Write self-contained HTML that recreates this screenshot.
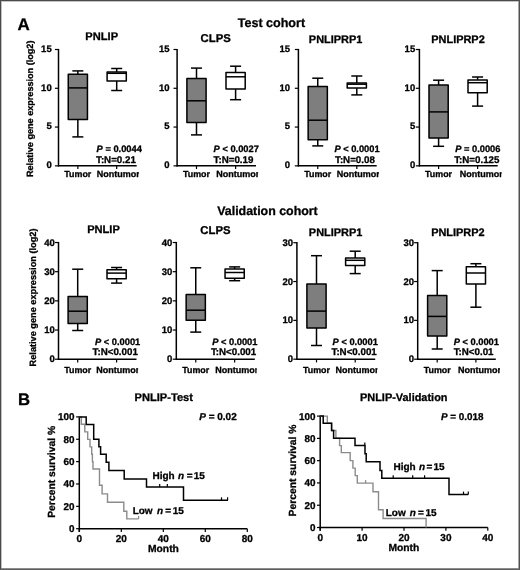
<!DOCTYPE html>
<html><head><meta charset="utf-8"><style>
html,body{margin:0;padding:0;background:#fff;}
body{width:520px;height:570px;overflow:hidden;font-family:"Liberation Sans", sans-serif;}
svg{display:block;}
body{filter:grayscale(1);}
</style></head><body>
<svg width="520" height="570" viewBox="0 0 520 570">
<rect x="0" y="0" width="520" height="570" fill="#fff"/>
<g font-family='"Liberation Sans", sans-serif' fill="#000" text-rendering="geometricPrecision" stroke-linejoin="round">
<text x="17.60" y="30.40" font-size="16.9" font-weight="bold" text-anchor="start" stroke="#000" stroke-width="0.3" >A</text>
<text x="271.40" y="26.60" font-size="12.55" font-weight="bold" text-anchor="middle" stroke="#000" stroke-width="0.3" >Test cohort</text>
<text x="267.50" y="214.70" font-size="12.4" font-weight="bold" text-anchor="middle" stroke="#000" stroke-width="0.3" >Validation cohort</text>
<text transform="translate(32.7,108.8) rotate(-90)" font-size="9.1" font-weight="bold" text-anchor="middle" stroke="#000" stroke-width="0.3">Relative gene expression (log2)</text>
<text transform="translate(35.9,297.5) rotate(-90)" font-size="9.2" font-weight="bold" text-anchor="middle" stroke="#000" stroke-width="0.3">Relative gene expression (log2)</text>
<line x1="58.50" y1="48.90" x2="58.50" y2="166.45" stroke="#000" stroke-width="1.5"/>
<line x1="54.90" y1="49.50" x2="58.50" y2="49.50" stroke="#000" stroke-width="1.2"/>
<text x="51.70" y="51.90" font-size="9.5" font-weight="bold" text-anchor="end" stroke="#000" stroke-width="0.3" >15</text>
<line x1="54.90" y1="88.28" x2="58.50" y2="88.28" stroke="#000" stroke-width="1.2"/>
<text x="51.70" y="90.68" font-size="9.5" font-weight="bold" text-anchor="end" stroke="#000" stroke-width="0.3" >10</text>
<line x1="54.90" y1="127.06" x2="58.50" y2="127.06" stroke="#000" stroke-width="1.2"/>
<text x="51.70" y="129.47" font-size="9.5" font-weight="bold" text-anchor="end" stroke="#000" stroke-width="0.3" >5</text>
<line x1="54.90" y1="165.85" x2="58.50" y2="165.85" stroke="#000" stroke-width="1.2"/>
<text x="51.70" y="168.25" font-size="9.5" font-weight="bold" text-anchor="end" stroke="#000" stroke-width="0.3" >0</text>
<line x1="57.90" y1="165.85" x2="136.70" y2="165.85" stroke="#000" stroke-width="1.5"/>
<line x1="77.85" y1="165.85" x2="77.85" y2="169.05" stroke="#000" stroke-width="1.2"/>
<line x1="116.70" y1="165.85" x2="116.70" y2="169.05" stroke="#000" stroke-width="1.2"/>
<line x1="77.85" y1="70.90" x2="77.85" y2="74.15" stroke="#000" stroke-width="1.5"/>
<line x1="77.85" y1="119.60" x2="77.85" y2="136.90" stroke="#000" stroke-width="1.5"/>
<line x1="72.35" y1="70.90" x2="83.35" y2="70.90" stroke="#000" stroke-width="1.5"/>
<line x1="72.35" y1="136.90" x2="83.35" y2="136.90" stroke="#000" stroke-width="1.5"/>
<rect x="68.25" y="74.15" width="19.20" height="45.45" fill="#7e7e7e" stroke="#000" stroke-width="1.5"/>
<line x1="68.25" y1="87.90" x2="87.45" y2="87.90" stroke="#000" stroke-width="1.5"/>
<line x1="116.70" y1="68.50" x2="116.70" y2="71.95" stroke="#000" stroke-width="1.5"/>
<line x1="116.70" y1="81.00" x2="116.70" y2="90.50" stroke="#000" stroke-width="1.5"/>
<line x1="111.20" y1="68.50" x2="122.20" y2="68.50" stroke="#000" stroke-width="1.5"/>
<line x1="111.20" y1="90.50" x2="122.20" y2="90.50" stroke="#000" stroke-width="1.5"/>
<rect x="107.10" y="71.95" width="19.20" height="9.05" fill="#fff" stroke="#000" stroke-width="1.5"/>
<line x1="107.10" y1="73.30" x2="126.30" y2="73.30" stroke="#000" stroke-width="1.5"/>
<text x="101.70" y="39.90" font-size="11.1" font-weight="bold" text-anchor="middle" stroke="#000" stroke-width="0.3" >PNLIP</text>
<text x="96.60" y="151.80" font-size="9.3" font-weight="bold" text-anchor="start" stroke="#000" stroke-width="0.3" ><tspan font-style="italic">P</tspan> = 0.0044</text>
<text x="96.00" y="162.70" font-size="9.75" font-weight="bold" text-anchor="start" stroke="#000" stroke-width="0.3" >T:N=0.21</text>
<text x="77.85" y="177.30" font-size="8.9" font-weight="bold" text-anchor="middle" stroke="#000" stroke-width="0.3" >Tumor</text>
<clipPath id="cn1"><rect x="91.75" y="165.30" width="47.15" height="16"/></clipPath>
<text x="96.75" y="177.30" font-size="9.0" font-weight="bold" text-anchor="start" stroke="#000" stroke-width="0.3" clip-path="url(#cn1)">Nontumor</text>
<line x1="177.10" y1="48.90" x2="177.10" y2="166.45" stroke="#000" stroke-width="1.5"/>
<line x1="173.50" y1="49.50" x2="177.10" y2="49.50" stroke="#000" stroke-width="1.2"/>
<text x="169.60" y="51.90" font-size="9.5" font-weight="bold" text-anchor="end" stroke="#000" stroke-width="0.3" >15</text>
<line x1="173.50" y1="88.28" x2="177.10" y2="88.28" stroke="#000" stroke-width="1.2"/>
<text x="169.60" y="90.68" font-size="9.5" font-weight="bold" text-anchor="end" stroke="#000" stroke-width="0.3" >10</text>
<line x1="173.50" y1="127.06" x2="177.10" y2="127.06" stroke="#000" stroke-width="1.2"/>
<text x="169.60" y="129.47" font-size="9.5" font-weight="bold" text-anchor="end" stroke="#000" stroke-width="0.3" >5</text>
<line x1="173.50" y1="165.85" x2="177.10" y2="165.85" stroke="#000" stroke-width="1.2"/>
<text x="169.60" y="168.25" font-size="9.5" font-weight="bold" text-anchor="end" stroke="#000" stroke-width="0.3" >0</text>
<line x1="176.50" y1="165.85" x2="256.00" y2="165.85" stroke="#000" stroke-width="1.5"/>
<line x1="196.50" y1="165.85" x2="196.50" y2="169.05" stroke="#000" stroke-width="1.2"/>
<line x1="235.60" y1="165.85" x2="235.60" y2="169.05" stroke="#000" stroke-width="1.2"/>
<line x1="196.50" y1="68.10" x2="196.50" y2="78.60" stroke="#000" stroke-width="1.5"/>
<line x1="196.50" y1="122.60" x2="196.50" y2="134.90" stroke="#000" stroke-width="1.5"/>
<line x1="191.00" y1="68.10" x2="202.00" y2="68.10" stroke="#000" stroke-width="1.5"/>
<line x1="191.00" y1="134.90" x2="202.00" y2="134.90" stroke="#000" stroke-width="1.5"/>
<rect x="186.90" y="78.60" width="19.20" height="44.00" fill="#7e7e7e" stroke="#000" stroke-width="1.5"/>
<line x1="186.90" y1="100.80" x2="206.10" y2="100.80" stroke="#000" stroke-width="1.5"/>
<line x1="235.60" y1="66.20" x2="235.60" y2="72.60" stroke="#000" stroke-width="1.5"/>
<line x1="235.60" y1="88.90" x2="235.60" y2="99.70" stroke="#000" stroke-width="1.5"/>
<line x1="230.10" y1="66.20" x2="241.10" y2="66.20" stroke="#000" stroke-width="1.5"/>
<line x1="230.10" y1="99.70" x2="241.10" y2="99.70" stroke="#000" stroke-width="1.5"/>
<rect x="226.00" y="72.60" width="19.20" height="16.30" fill="#fff" stroke="#000" stroke-width="1.5"/>
<line x1="226.00" y1="76.80" x2="245.20" y2="76.80" stroke="#000" stroke-width="1.5"/>
<text x="215.70" y="41.60" font-size="11.35" font-weight="bold" text-anchor="middle" stroke="#000" stroke-width="0.3" >CLPS</text>
<text x="213.60" y="151.80" font-size="9.3" font-weight="bold" text-anchor="start" stroke="#000" stroke-width="0.3" ><tspan font-style="italic">P</tspan> &lt; 0.0027</text>
<text x="213.60" y="162.70" font-size="9.75" font-weight="bold" text-anchor="start" stroke="#000" stroke-width="0.3" >T:N=0.19</text>
<text x="196.50" y="177.30" font-size="8.9" font-weight="bold" text-anchor="middle" stroke="#000" stroke-width="0.3" >Tumor</text>
<clipPath id="cn2"><rect x="211.15" y="165.30" width="46.95" height="16"/></clipPath>
<text x="216.15" y="177.30" font-size="9.0" font-weight="bold" text-anchor="start" stroke="#000" stroke-width="0.3" clip-path="url(#cn2)">Nontumor</text>
<line x1="298.40" y1="48.90" x2="298.40" y2="166.45" stroke="#000" stroke-width="1.5"/>
<line x1="294.80" y1="49.50" x2="298.40" y2="49.50" stroke="#000" stroke-width="1.2"/>
<text x="290.00" y="51.90" font-size="9.5" font-weight="bold" text-anchor="end" stroke="#000" stroke-width="0.3" >15</text>
<line x1="294.80" y1="88.28" x2="298.40" y2="88.28" stroke="#000" stroke-width="1.2"/>
<text x="290.00" y="90.68" font-size="9.5" font-weight="bold" text-anchor="end" stroke="#000" stroke-width="0.3" >10</text>
<line x1="294.80" y1="127.06" x2="298.40" y2="127.06" stroke="#000" stroke-width="1.2"/>
<text x="290.00" y="129.47" font-size="9.5" font-weight="bold" text-anchor="end" stroke="#000" stroke-width="0.3" >5</text>
<line x1="294.80" y1="165.85" x2="298.40" y2="165.85" stroke="#000" stroke-width="1.2"/>
<text x="290.00" y="168.25" font-size="9.5" font-weight="bold" text-anchor="end" stroke="#000" stroke-width="0.3" >0</text>
<line x1="297.80" y1="165.85" x2="376.70" y2="165.85" stroke="#000" stroke-width="1.5"/>
<line x1="317.75" y1="165.85" x2="317.75" y2="169.05" stroke="#000" stroke-width="1.2"/>
<line x1="356.80" y1="165.85" x2="356.80" y2="169.05" stroke="#000" stroke-width="1.2"/>
<line x1="317.75" y1="78.20" x2="317.75" y2="86.40" stroke="#000" stroke-width="1.5"/>
<line x1="317.75" y1="139.70" x2="317.75" y2="145.90" stroke="#000" stroke-width="1.5"/>
<line x1="312.25" y1="78.20" x2="323.25" y2="78.20" stroke="#000" stroke-width="1.5"/>
<line x1="312.25" y1="145.90" x2="323.25" y2="145.90" stroke="#000" stroke-width="1.5"/>
<rect x="308.15" y="86.40" width="19.20" height="53.30" fill="#7e7e7e" stroke="#000" stroke-width="1.5"/>
<line x1="308.15" y1="120.20" x2="327.35" y2="120.20" stroke="#000" stroke-width="1.5"/>
<line x1="356.80" y1="76.00" x2="356.80" y2="83.00" stroke="#000" stroke-width="1.5"/>
<line x1="356.80" y1="88.10" x2="356.80" y2="94.90" stroke="#000" stroke-width="1.5"/>
<line x1="351.30" y1="76.00" x2="362.30" y2="76.00" stroke="#000" stroke-width="1.5"/>
<line x1="351.30" y1="94.90" x2="362.30" y2="94.90" stroke="#000" stroke-width="1.5"/>
<rect x="347.20" y="83.00" width="19.20" height="5.10" fill="#fff" stroke="#000" stroke-width="1.5"/>
<line x1="347.20" y1="84.20" x2="366.40" y2="84.20" stroke="#000" stroke-width="1.5"/>
<text x="335.60" y="43.00" font-size="10.95" font-weight="bold" text-anchor="middle" stroke="#000" stroke-width="0.3" >PNLIPRP1</text>
<text x="334.40" y="151.80" font-size="9.3" font-weight="bold" text-anchor="start" stroke="#000" stroke-width="0.3" ><tspan font-style="italic">P</tspan> &lt; 0.0001</text>
<text x="335.00" y="162.70" font-size="9.75" font-weight="bold" text-anchor="start" stroke="#000" stroke-width="0.3" >T:N=0.08</text>
<text x="317.75" y="177.30" font-size="8.9" font-weight="bold" text-anchor="middle" stroke="#000" stroke-width="0.3" >Tumor</text>
<clipPath id="cn3"><rect x="331.65" y="165.30" width="47.35" height="16"/></clipPath>
<text x="336.65" y="177.30" font-size="9.0" font-weight="bold" text-anchor="start" stroke="#000" stroke-width="0.3" clip-path="url(#cn3)">Nontumor</text>
<line x1="419.40" y1="48.90" x2="419.40" y2="166.45" stroke="#000" stroke-width="1.5"/>
<line x1="415.80" y1="49.50" x2="419.40" y2="49.50" stroke="#000" stroke-width="1.2"/>
<text x="415.20" y="51.90" font-size="9.5" font-weight="bold" text-anchor="end" stroke="#000" stroke-width="0.3" >15</text>
<line x1="415.80" y1="88.28" x2="419.40" y2="88.28" stroke="#000" stroke-width="1.2"/>
<text x="415.20" y="90.68" font-size="9.5" font-weight="bold" text-anchor="end" stroke="#000" stroke-width="0.3" >10</text>
<line x1="415.80" y1="127.06" x2="419.40" y2="127.06" stroke="#000" stroke-width="1.2"/>
<text x="415.20" y="129.47" font-size="9.5" font-weight="bold" text-anchor="end" stroke="#000" stroke-width="0.3" >5</text>
<line x1="415.80" y1="165.85" x2="419.40" y2="165.85" stroke="#000" stroke-width="1.2"/>
<text x="415.20" y="168.25" font-size="9.5" font-weight="bold" text-anchor="end" stroke="#000" stroke-width="0.3" >0</text>
<line x1="418.80" y1="165.85" x2="497.70" y2="165.85" stroke="#000" stroke-width="1.5"/>
<line x1="438.60" y1="165.85" x2="438.60" y2="169.05" stroke="#000" stroke-width="1.2"/>
<line x1="477.60" y1="165.85" x2="477.60" y2="169.05" stroke="#000" stroke-width="1.2"/>
<line x1="438.60" y1="80.20" x2="438.60" y2="85.00" stroke="#000" stroke-width="1.5"/>
<line x1="438.60" y1="137.90" x2="438.60" y2="146.30" stroke="#000" stroke-width="1.5"/>
<line x1="433.10" y1="80.20" x2="444.10" y2="80.20" stroke="#000" stroke-width="1.5"/>
<line x1="433.10" y1="146.30" x2="444.10" y2="146.30" stroke="#000" stroke-width="1.5"/>
<rect x="429.00" y="85.00" width="19.20" height="52.90" fill="#7e7e7e" stroke="#000" stroke-width="1.5"/>
<line x1="429.00" y1="111.90" x2="448.20" y2="111.90" stroke="#000" stroke-width="1.5"/>
<line x1="477.60" y1="77.00" x2="477.60" y2="79.90" stroke="#000" stroke-width="1.5"/>
<line x1="477.60" y1="92.80" x2="477.60" y2="106.10" stroke="#000" stroke-width="1.5"/>
<line x1="472.10" y1="77.00" x2="483.10" y2="77.00" stroke="#000" stroke-width="1.5"/>
<line x1="472.10" y1="106.10" x2="483.10" y2="106.10" stroke="#000" stroke-width="1.5"/>
<rect x="468.00" y="79.90" width="19.20" height="12.90" fill="#fff" stroke="#000" stroke-width="1.5"/>
<line x1="468.00" y1="82.70" x2="487.20" y2="82.70" stroke="#000" stroke-width="1.5"/>
<text x="458.00" y="43.00" font-size="10.95" font-weight="bold" text-anchor="middle" stroke="#000" stroke-width="0.3" >PNLIPRP2</text>
<text x="455.20" y="151.80" font-size="9.3" font-weight="bold" text-anchor="start" stroke="#000" stroke-width="0.3" ><tspan font-style="italic">P</tspan> = 0.0006</text>
<text x="454.20" y="162.70" font-size="9.75" font-weight="bold" text-anchor="start" stroke="#000" stroke-width="0.3" >T:N=0.125</text>
<text x="438.60" y="177.30" font-size="8.9" font-weight="bold" text-anchor="middle" stroke="#000" stroke-width="0.3" >Tumor</text>
<clipPath id="cn4"><rect x="454.65" y="165.30" width="46.95" height="16"/></clipPath>
<text x="459.65" y="177.30" font-size="9.0" font-weight="bold" text-anchor="start" stroke="#000" stroke-width="0.3" clip-path="url(#cn4)">Nontumor</text>
<line x1="58.50" y1="241.92" x2="58.50" y2="359.80" stroke="#000" stroke-width="1.5"/>
<line x1="54.90" y1="242.52" x2="58.50" y2="242.52" stroke="#000" stroke-width="1.2"/>
<text x="54.80" y="245.62" font-size="9.5" font-weight="bold" text-anchor="end" stroke="#000" stroke-width="0.3" >40</text>
<line x1="54.90" y1="271.69" x2="58.50" y2="271.69" stroke="#000" stroke-width="1.2"/>
<text x="54.80" y="274.79" font-size="9.5" font-weight="bold" text-anchor="end" stroke="#000" stroke-width="0.3" >30</text>
<line x1="54.90" y1="300.86" x2="58.50" y2="300.86" stroke="#000" stroke-width="1.2"/>
<text x="54.80" y="303.96" font-size="9.5" font-weight="bold" text-anchor="end" stroke="#000" stroke-width="0.3" >20</text>
<line x1="54.90" y1="330.03" x2="58.50" y2="330.03" stroke="#000" stroke-width="1.2"/>
<text x="54.80" y="333.13" font-size="9.5" font-weight="bold" text-anchor="end" stroke="#000" stroke-width="0.3" >10</text>
<line x1="54.90" y1="359.20" x2="58.50" y2="359.20" stroke="#000" stroke-width="1.2"/>
<text x="54.80" y="362.30" font-size="9.5" font-weight="bold" text-anchor="end" stroke="#000" stroke-width="0.3" >0</text>
<line x1="57.90" y1="359.20" x2="136.50" y2="359.20" stroke="#000" stroke-width="1.5"/>
<line x1="77.70" y1="359.20" x2="77.70" y2="362.40" stroke="#000" stroke-width="1.2"/>
<line x1="116.60" y1="359.20" x2="116.60" y2="362.40" stroke="#000" stroke-width="1.2"/>
<line x1="77.70" y1="269.20" x2="77.70" y2="296.50" stroke="#000" stroke-width="1.5"/>
<line x1="77.70" y1="323.40" x2="77.70" y2="330.50" stroke="#000" stroke-width="1.5"/>
<line x1="72.20" y1="269.20" x2="83.20" y2="269.20" stroke="#000" stroke-width="1.5"/>
<line x1="72.20" y1="330.50" x2="83.20" y2="330.50" stroke="#000" stroke-width="1.5"/>
<rect x="68.10" y="296.50" width="19.20" height="26.90" fill="#7e7e7e" stroke="#000" stroke-width="1.5"/>
<line x1="68.10" y1="311.20" x2="87.30" y2="311.20" stroke="#000" stroke-width="1.5"/>
<line x1="116.60" y1="267.50" x2="116.60" y2="269.80" stroke="#000" stroke-width="1.5"/>
<line x1="116.60" y1="278.80" x2="116.60" y2="283.10" stroke="#000" stroke-width="1.5"/>
<line x1="111.10" y1="267.50" x2="122.10" y2="267.50" stroke="#000" stroke-width="1.5"/>
<line x1="111.10" y1="283.10" x2="122.10" y2="283.10" stroke="#000" stroke-width="1.5"/>
<rect x="107.00" y="269.80" width="19.20" height="9.00" fill="#fff" stroke="#000" stroke-width="1.5"/>
<line x1="107.00" y1="273.10" x2="126.20" y2="273.10" stroke="#000" stroke-width="1.5"/>
<text x="103.50" y="232.90" font-size="11.1" font-weight="bold" text-anchor="middle" stroke="#000" stroke-width="0.3" >PNLIP</text>
<text x="95.00" y="344.60" font-size="9.3" font-weight="bold" text-anchor="start" stroke="#000" stroke-width="0.3" ><tspan font-style="italic">P</tspan> &lt; 0.0001</text>
<text x="92.60" y="355.30" font-size="9.75" font-weight="bold" text-anchor="start" stroke="#000" stroke-width="0.3" >T:N&lt;0.001</text>
<text x="77.70" y="373.00" font-size="8.9" font-weight="bold" text-anchor="middle" stroke="#000" stroke-width="0.3" >Tumor</text>
<clipPath id="cn5"><rect x="91.15" y="361.00" width="46.95" height="16"/></clipPath>
<text x="96.15" y="373.00" font-size="9.0" font-weight="bold" text-anchor="start" stroke="#000" stroke-width="0.3" clip-path="url(#cn5)">Nontumor</text>
<line x1="176.30" y1="241.92" x2="176.30" y2="359.80" stroke="#000" stroke-width="1.5"/>
<line x1="172.70" y1="242.52" x2="176.30" y2="242.52" stroke="#000" stroke-width="1.2"/>
<text x="172.30" y="245.62" font-size="9.5" font-weight="bold" text-anchor="end" stroke="#000" stroke-width="0.3" >40</text>
<line x1="172.70" y1="271.69" x2="176.30" y2="271.69" stroke="#000" stroke-width="1.2"/>
<text x="172.30" y="274.79" font-size="9.5" font-weight="bold" text-anchor="end" stroke="#000" stroke-width="0.3" >30</text>
<line x1="172.70" y1="300.86" x2="176.30" y2="300.86" stroke="#000" stroke-width="1.2"/>
<text x="172.30" y="303.96" font-size="9.5" font-weight="bold" text-anchor="end" stroke="#000" stroke-width="0.3" >20</text>
<line x1="172.70" y1="330.03" x2="176.30" y2="330.03" stroke="#000" stroke-width="1.2"/>
<text x="172.30" y="333.13" font-size="9.5" font-weight="bold" text-anchor="end" stroke="#000" stroke-width="0.3" >10</text>
<line x1="172.70" y1="359.20" x2="176.30" y2="359.20" stroke="#000" stroke-width="1.2"/>
<text x="172.30" y="362.30" font-size="9.5" font-weight="bold" text-anchor="end" stroke="#000" stroke-width="0.3" >0</text>
<line x1="175.70" y1="359.20" x2="254.80" y2="359.20" stroke="#000" stroke-width="1.5"/>
<line x1="195.75" y1="359.20" x2="195.75" y2="362.40" stroke="#000" stroke-width="1.2"/>
<line x1="234.65" y1="359.20" x2="234.65" y2="362.40" stroke="#000" stroke-width="1.2"/>
<line x1="195.75" y1="267.80" x2="195.75" y2="294.60" stroke="#000" stroke-width="1.5"/>
<line x1="195.75" y1="320.20" x2="195.75" y2="332.10" stroke="#000" stroke-width="1.5"/>
<line x1="190.25" y1="267.80" x2="201.25" y2="267.80" stroke="#000" stroke-width="1.5"/>
<line x1="190.25" y1="332.10" x2="201.25" y2="332.10" stroke="#000" stroke-width="1.5"/>
<rect x="186.15" y="294.60" width="19.20" height="25.60" fill="#7e7e7e" stroke="#000" stroke-width="1.5"/>
<line x1="186.15" y1="310.20" x2="205.35" y2="310.20" stroke="#000" stroke-width="1.5"/>
<line x1="234.65" y1="266.90" x2="234.65" y2="269.10" stroke="#000" stroke-width="1.5"/>
<line x1="234.65" y1="278.30" x2="234.65" y2="280.70" stroke="#000" stroke-width="1.5"/>
<line x1="229.15" y1="266.90" x2="240.15" y2="266.90" stroke="#000" stroke-width="1.5"/>
<line x1="229.15" y1="280.70" x2="240.15" y2="280.70" stroke="#000" stroke-width="1.5"/>
<rect x="225.05" y="269.10" width="19.20" height="9.20" fill="#fff" stroke="#000" stroke-width="1.5"/>
<line x1="225.05" y1="272.50" x2="244.25" y2="272.50" stroke="#000" stroke-width="1.5"/>
<text x="215.40" y="234.40" font-size="11.35" font-weight="bold" text-anchor="middle" stroke="#000" stroke-width="0.3" >CLPS</text>
<text x="212.20" y="344.60" font-size="9.3" font-weight="bold" text-anchor="start" stroke="#000" stroke-width="0.3" ><tspan font-style="italic">P</tspan> &lt; 0.0001</text>
<text x="210.90" y="355.30" font-size="9.75" font-weight="bold" text-anchor="start" stroke="#000" stroke-width="0.3" >T:N&lt;0.001</text>
<text x="195.75" y="373.00" font-size="8.9" font-weight="bold" text-anchor="middle" stroke="#000" stroke-width="0.3" >Tumor</text>
<clipPath id="cn6"><rect x="210.15" y="361.00" width="46.55" height="16"/></clipPath>
<text x="215.15" y="373.00" font-size="9.0" font-weight="bold" text-anchor="start" stroke="#000" stroke-width="0.3" clip-path="url(#cn6)">Nontumor</text>
<line x1="296.90" y1="242.11" x2="296.90" y2="359.80" stroke="#000" stroke-width="1.5"/>
<line x1="293.30" y1="242.71" x2="296.90" y2="242.71" stroke="#000" stroke-width="1.2"/>
<text x="293.10" y="245.81" font-size="9.5" font-weight="bold" text-anchor="end" stroke="#000" stroke-width="0.3" >30</text>
<line x1="293.30" y1="281.54" x2="296.90" y2="281.54" stroke="#000" stroke-width="1.2"/>
<text x="293.10" y="284.64" font-size="9.5" font-weight="bold" text-anchor="end" stroke="#000" stroke-width="0.3" >20</text>
<line x1="293.30" y1="320.37" x2="296.90" y2="320.37" stroke="#000" stroke-width="1.2"/>
<text x="293.10" y="323.47" font-size="9.5" font-weight="bold" text-anchor="end" stroke="#000" stroke-width="0.3" >10</text>
<line x1="293.30" y1="359.20" x2="296.90" y2="359.20" stroke="#000" stroke-width="1.2"/>
<text x="293.10" y="362.30" font-size="9.5" font-weight="bold" text-anchor="end" stroke="#000" stroke-width="0.3" >0</text>
<line x1="296.30" y1="359.20" x2="375.20" y2="359.20" stroke="#000" stroke-width="1.5"/>
<line x1="316.50" y1="359.20" x2="316.50" y2="362.40" stroke="#000" stroke-width="1.2"/>
<line x1="355.20" y1="359.20" x2="355.20" y2="362.40" stroke="#000" stroke-width="1.2"/>
<line x1="316.50" y1="255.70" x2="316.50" y2="284.10" stroke="#000" stroke-width="1.5"/>
<line x1="316.50" y1="328.00" x2="316.50" y2="345.50" stroke="#000" stroke-width="1.5"/>
<line x1="311.00" y1="255.70" x2="322.00" y2="255.70" stroke="#000" stroke-width="1.5"/>
<line x1="311.00" y1="345.50" x2="322.00" y2="345.50" stroke="#000" stroke-width="1.5"/>
<rect x="306.90" y="284.10" width="19.20" height="43.90" fill="#7e7e7e" stroke="#000" stroke-width="1.5"/>
<line x1="306.90" y1="311.10" x2="326.10" y2="311.10" stroke="#000" stroke-width="1.5"/>
<line x1="355.20" y1="251.20" x2="355.20" y2="258.00" stroke="#000" stroke-width="1.5"/>
<line x1="355.20" y1="265.60" x2="355.20" y2="273.60" stroke="#000" stroke-width="1.5"/>
<line x1="349.70" y1="251.20" x2="360.70" y2="251.20" stroke="#000" stroke-width="1.5"/>
<line x1="349.70" y1="273.60" x2="360.70" y2="273.60" stroke="#000" stroke-width="1.5"/>
<rect x="345.60" y="258.00" width="19.20" height="7.60" fill="#fff" stroke="#000" stroke-width="1.5"/>
<line x1="345.60" y1="260.30" x2="364.80" y2="260.30" stroke="#000" stroke-width="1.5"/>
<text x="335.60" y="235.50" font-size="10.95" font-weight="bold" text-anchor="middle" stroke="#000" stroke-width="0.3" >PNLIPRP1</text>
<text x="332.60" y="344.60" font-size="9.3" font-weight="bold" text-anchor="start" stroke="#000" stroke-width="0.3" ><tspan font-style="italic">P</tspan> &lt; 0.0001</text>
<text x="331.50" y="355.30" font-size="9.75" font-weight="bold" text-anchor="start" stroke="#000" stroke-width="0.3" >T:N&lt;0.001</text>
<text x="316.50" y="373.00" font-size="8.9" font-weight="bold" text-anchor="middle" stroke="#000" stroke-width="0.3" >Tumor</text>
<clipPath id="cn7"><rect x="330.60" y="361.00" width="46.80" height="16"/></clipPath>
<text x="335.60" y="373.00" font-size="9.0" font-weight="bold" text-anchor="start" stroke="#000" stroke-width="0.3" clip-path="url(#cn7)">Nontumor</text>
<line x1="417.70" y1="242.11" x2="417.70" y2="359.80" stroke="#000" stroke-width="1.5"/>
<line x1="414.10" y1="242.71" x2="417.70" y2="242.71" stroke="#000" stroke-width="1.2"/>
<text x="414.00" y="245.81" font-size="9.5" font-weight="bold" text-anchor="end" stroke="#000" stroke-width="0.3" >30</text>
<line x1="414.10" y1="281.54" x2="417.70" y2="281.54" stroke="#000" stroke-width="1.2"/>
<text x="414.00" y="284.64" font-size="9.5" font-weight="bold" text-anchor="end" stroke="#000" stroke-width="0.3" >20</text>
<line x1="414.10" y1="320.37" x2="417.70" y2="320.37" stroke="#000" stroke-width="1.2"/>
<text x="414.00" y="323.47" font-size="9.5" font-weight="bold" text-anchor="end" stroke="#000" stroke-width="0.3" >10</text>
<line x1="414.10" y1="359.20" x2="417.70" y2="359.20" stroke="#000" stroke-width="1.2"/>
<text x="414.00" y="362.30" font-size="9.5" font-weight="bold" text-anchor="end" stroke="#000" stroke-width="0.3" >0</text>
<line x1="417.10" y1="359.20" x2="495.80" y2="359.20" stroke="#000" stroke-width="1.5"/>
<line x1="437.20" y1="359.20" x2="437.20" y2="362.40" stroke="#000" stroke-width="1.2"/>
<line x1="475.90" y1="359.20" x2="475.90" y2="362.40" stroke="#000" stroke-width="1.2"/>
<line x1="437.20" y1="270.60" x2="437.20" y2="295.60" stroke="#000" stroke-width="1.5"/>
<line x1="437.20" y1="335.90" x2="437.20" y2="349.00" stroke="#000" stroke-width="1.5"/>
<line x1="431.70" y1="270.60" x2="442.70" y2="270.60" stroke="#000" stroke-width="1.5"/>
<line x1="431.70" y1="349.00" x2="442.70" y2="349.00" stroke="#000" stroke-width="1.5"/>
<rect x="427.60" y="295.60" width="19.20" height="40.30" fill="#7e7e7e" stroke="#000" stroke-width="1.5"/>
<line x1="427.60" y1="316.40" x2="446.80" y2="316.40" stroke="#000" stroke-width="1.5"/>
<line x1="475.90" y1="263.70" x2="475.90" y2="266.80" stroke="#000" stroke-width="1.5"/>
<line x1="475.90" y1="283.90" x2="475.90" y2="307.20" stroke="#000" stroke-width="1.5"/>
<line x1="470.40" y1="263.70" x2="481.40" y2="263.70" stroke="#000" stroke-width="1.5"/>
<line x1="470.40" y1="307.20" x2="481.40" y2="307.20" stroke="#000" stroke-width="1.5"/>
<rect x="466.30" y="266.80" width="19.20" height="17.10" fill="#fff" stroke="#000" stroke-width="1.5"/>
<line x1="466.30" y1="273.00" x2="485.50" y2="273.00" stroke="#000" stroke-width="1.5"/>
<text x="457.90" y="235.50" font-size="10.95" font-weight="bold" text-anchor="middle" stroke="#000" stroke-width="0.3" >PNLIPRP2</text>
<text x="453.70" y="344.60" font-size="9.3" font-weight="bold" text-anchor="start" stroke="#000" stroke-width="0.3" ><tspan font-style="italic">P</tspan> &lt; 0.0001</text>
<text x="453.70" y="355.30" font-size="9.75" font-weight="bold" text-anchor="start" stroke="#000" stroke-width="0.3" >T:N&lt;0.01</text>
<text x="437.20" y="373.00" font-size="8.9" font-weight="bold" text-anchor="middle" stroke="#000" stroke-width="0.3" >Tumor</text>
<clipPath id="cn8"><rect x="453.05" y="361.00" width="47.05" height="16"/></clipPath>
<text x="458.05" y="373.00" font-size="9.0" font-weight="bold" text-anchor="start" stroke="#000" stroke-width="0.3" clip-path="url(#cn8)">Nontumor</text>
<text x="18.00" y="404.90" font-size="16.7" font-weight="bold" text-anchor="start" stroke="#000" stroke-width="0.3" >B</text>
<text x="163.75" y="401.20" font-size="11.1" font-weight="bold" text-anchor="middle" stroke="#000" stroke-width="0.3" >PNLIP-Test</text>
<text x="403.75" y="401.00" font-size="10.95" font-weight="bold" text-anchor="middle" stroke="#000" stroke-width="0.3" >PNLIP-Validation</text>
<text x="199.20" y="420.20" font-size="10.0" font-weight="bold" text-anchor="start" stroke="#000" stroke-width="0.3" ><tspan font-style="italic">P</tspan> = 0.02</text>
<text x="441.00" y="420.20" font-size="9.9" font-weight="bold" text-anchor="start" stroke="#000" stroke-width="0.3" ><tspan font-style="italic">P</tspan> = 0.018</text>
<line x1="79.30" y1="416.30" x2="79.30" y2="531.90" stroke="#000" stroke-width="1.5"/>
<line x1="76.10" y1="416.90" x2="79.30" y2="416.90" stroke="#000" stroke-width="1.2"/>
<text x="74.50" y="420.40" font-size="9.9" font-weight="bold" text-anchor="end" stroke="#000" stroke-width="0.3" >100</text>
<line x1="76.10" y1="439.26" x2="79.30" y2="439.26" stroke="#000" stroke-width="1.2"/>
<text x="74.50" y="442.76" font-size="9.9" font-weight="bold" text-anchor="end" stroke="#000" stroke-width="0.3" >80</text>
<line x1="76.10" y1="461.62" x2="79.30" y2="461.62" stroke="#000" stroke-width="1.2"/>
<text x="74.50" y="465.12" font-size="9.9" font-weight="bold" text-anchor="end" stroke="#000" stroke-width="0.3" >60</text>
<line x1="76.10" y1="483.98" x2="79.30" y2="483.98" stroke="#000" stroke-width="1.2"/>
<text x="74.50" y="487.48" font-size="9.9" font-weight="bold" text-anchor="end" stroke="#000" stroke-width="0.3" >40</text>
<line x1="76.10" y1="506.34" x2="79.30" y2="506.34" stroke="#000" stroke-width="1.2"/>
<text x="74.50" y="509.84" font-size="9.9" font-weight="bold" text-anchor="end" stroke="#000" stroke-width="0.3" >20</text>
<line x1="76.10" y1="528.70" x2="79.30" y2="528.70" stroke="#000" stroke-width="1.2"/>
<text x="74.50" y="532.20" font-size="9.9" font-weight="bold" text-anchor="end" stroke="#000" stroke-width="0.3" >0</text>
<line x1="78.70" y1="528.70" x2="247.30" y2="528.70" stroke="#000" stroke-width="1.5"/>
<line x1="79.30" y1="528.70" x2="79.30" y2="531.90" stroke="#000" stroke-width="1.2"/>
<text x="79.30" y="542.40" font-size="10.0" font-weight="bold" text-anchor="middle" stroke="#000" stroke-width="0.3" >0</text>
<line x1="121.30" y1="528.70" x2="121.30" y2="531.90" stroke="#000" stroke-width="1.2"/>
<text x="121.30" y="542.40" font-size="10.0" font-weight="bold" text-anchor="middle" stroke="#000" stroke-width="0.3" >20</text>
<line x1="163.30" y1="528.70" x2="163.30" y2="531.90" stroke="#000" stroke-width="1.2"/>
<text x="163.30" y="542.40" font-size="10.0" font-weight="bold" text-anchor="middle" stroke="#000" stroke-width="0.3" >40</text>
<line x1="205.30" y1="528.70" x2="205.30" y2="531.90" stroke="#000" stroke-width="1.2"/>
<text x="205.30" y="542.40" font-size="10.0" font-weight="bold" text-anchor="middle" stroke="#000" stroke-width="0.3" >60</text>
<line x1="247.30" y1="528.70" x2="247.30" y2="531.90" stroke="#000" stroke-width="1.2"/>
<text x="247.30" y="542.40" font-size="10.0" font-weight="bold" text-anchor="middle" stroke="#000" stroke-width="0.3" >80</text>
<text transform="translate(54.8,471.8) rotate(-90)" font-size="10.35" font-weight="bold" text-anchor="middle" stroke="#000" stroke-width="0.3">Percent survival %</text>
<text x="163.45" y="551.80" font-size="10.3" font-weight="bold" text-anchor="middle" stroke="#000" stroke-width="0.3" >Month</text>
<path d="M79.30,416.90 L81.30,416.90 L81.30,424.20 L84.80,424.20 L84.80,431.90 L87.70,431.90 L87.70,439.40 L90.00,439.40 L90.00,446.90 L91.70,446.90 L91.70,454.30 L92.40,454.30 L92.40,461.70 L93.00,461.70 L93.00,469.00 L99.50,469.00 L99.50,485.20 L102.10,485.20 L102.10,493.90 L107.50,493.90 L107.50,502.30 L123.80,502.30 L123.80,511.20 L126.80,511.20 L126.80,518.90 L138.60,518.90" fill="none" stroke="#8c8c8c" stroke-width="1.4" stroke-linejoin="miter"/>
<line x1="138.60" y1="518.90" x2="138.60" y2="515.90" stroke="#8c8c8c" stroke-width="1.3"/>
<path d="M79.30,416.90 L86.20,416.90 L86.20,424.40 L93.70,424.40 L93.70,439.20 L98.90,439.20 L98.90,446.80 L100.60,446.80 L100.60,454.20 L106.20,454.20 L106.20,462.30 L108.90,462.30 L108.90,470.60 L124.20,470.60 L124.20,478.90 L146.50,478.90 L146.50,486.90 L183.50,486.90 L183.50,500.30 L228.00,500.30" fill="none" stroke="#000" stroke-width="1.5" stroke-linejoin="miter"/>
<line x1="159.70" y1="486.90" x2="159.70" y2="483.90" stroke="#000" stroke-width="1.2"/>
<line x1="167.30" y1="486.90" x2="167.30" y2="483.90" stroke="#000" stroke-width="1.2"/>
<line x1="221.50" y1="500.30" x2="221.50" y2="497.30" stroke="#000" stroke-width="1.2"/>
<line x1="227.60" y1="500.30" x2="227.60" y2="497.30" stroke="#000" stroke-width="1.2"/>
<text x="152.45" y="478.70" font-size="10.0" font-weight="bold" text-anchor="start" stroke="#000" stroke-width="0.3" >High</text>
<text x="178.10" y="478.70" font-size="10.0" font-weight="bold" text-anchor="start" stroke="#000" stroke-width="0.3" font-style="italic">n</text>
<text x="186.80" y="478.70" font-size="10.0" font-weight="bold" text-anchor="start" stroke="#000" stroke-width="0.3" >=</text>
<text x="193.77" y="478.70" font-size="10.0" font-weight="bold" text-anchor="start" stroke="#000" stroke-width="0.3" >15</text>
<text x="132.65" y="513.60" font-size="10.0" font-weight="bold" text-anchor="start" stroke="#000" stroke-width="0.3" >Low</text>
<text x="157.00" y="513.60" font-size="10.0" font-weight="bold" text-anchor="start" stroke="#000" stroke-width="0.3" font-style="italic">n</text>
<text x="165.20" y="513.60" font-size="10.0" font-weight="bold" text-anchor="start" stroke="#000" stroke-width="0.3" >=</text>
<text x="172.67" y="513.60" font-size="10.0" font-weight="bold" text-anchor="start" stroke="#000" stroke-width="0.3" >15</text>
<line x1="320.20" y1="415.50" x2="320.20" y2="530.70" stroke="#000" stroke-width="1.5"/>
<line x1="317.00" y1="416.10" x2="320.20" y2="416.10" stroke="#000" stroke-width="1.2"/>
<text x="315.40" y="419.60" font-size="9.9" font-weight="bold" text-anchor="end" stroke="#000" stroke-width="0.3" >100</text>
<line x1="317.00" y1="438.38" x2="320.20" y2="438.38" stroke="#000" stroke-width="1.2"/>
<text x="315.40" y="441.88" font-size="9.9" font-weight="bold" text-anchor="end" stroke="#000" stroke-width="0.3" >80</text>
<line x1="317.00" y1="460.66" x2="320.20" y2="460.66" stroke="#000" stroke-width="1.2"/>
<text x="315.40" y="464.16" font-size="9.9" font-weight="bold" text-anchor="end" stroke="#000" stroke-width="0.3" >60</text>
<line x1="317.00" y1="482.94" x2="320.20" y2="482.94" stroke="#000" stroke-width="1.2"/>
<text x="315.40" y="486.44" font-size="9.9" font-weight="bold" text-anchor="end" stroke="#000" stroke-width="0.3" >40</text>
<line x1="317.00" y1="505.22" x2="320.20" y2="505.22" stroke="#000" stroke-width="1.2"/>
<text x="315.40" y="508.72" font-size="9.9" font-weight="bold" text-anchor="end" stroke="#000" stroke-width="0.3" >20</text>
<line x1="317.00" y1="527.50" x2="320.20" y2="527.50" stroke="#000" stroke-width="1.2"/>
<text x="315.40" y="531.00" font-size="9.9" font-weight="bold" text-anchor="end" stroke="#000" stroke-width="0.3" >0</text>
<line x1="319.60" y1="527.50" x2="487.80" y2="527.50" stroke="#000" stroke-width="1.5"/>
<line x1="320.20" y1="527.50" x2="320.20" y2="530.70" stroke="#000" stroke-width="1.2"/>
<text x="320.20" y="541.20" font-size="10.0" font-weight="bold" text-anchor="middle" stroke="#000" stroke-width="0.3" >0</text>
<line x1="362.10" y1="527.50" x2="362.10" y2="530.70" stroke="#000" stroke-width="1.2"/>
<text x="362.10" y="541.20" font-size="10.0" font-weight="bold" text-anchor="middle" stroke="#000" stroke-width="0.3" >10</text>
<line x1="404.00" y1="527.50" x2="404.00" y2="530.70" stroke="#000" stroke-width="1.2"/>
<text x="404.00" y="541.20" font-size="10.0" font-weight="bold" text-anchor="middle" stroke="#000" stroke-width="0.3" >20</text>
<line x1="445.90" y1="527.50" x2="445.90" y2="530.70" stroke="#000" stroke-width="1.2"/>
<text x="445.90" y="541.20" font-size="10.0" font-weight="bold" text-anchor="middle" stroke="#000" stroke-width="0.3" >30</text>
<line x1="487.80" y1="527.50" x2="487.80" y2="530.70" stroke="#000" stroke-width="1.2"/>
<text x="487.80" y="541.20" font-size="10.0" font-weight="bold" text-anchor="middle" stroke="#000" stroke-width="0.3" >40</text>
<text transform="translate(295.8,470.5) rotate(-90)" font-size="10.35" font-weight="bold" text-anchor="middle" stroke="#000" stroke-width="0.3">Percent survival %</text>
<text x="403.85" y="550.60" font-size="10.3" font-weight="bold" text-anchor="middle" stroke="#000" stroke-width="0.3" >Month</text>
<path d="M320.20,416.10 L327.30,416.10 L327.30,423.30 L331.60,423.30 L331.60,430.50 L335.90,430.50 L335.90,438.30 L339.60,438.30 L339.60,445.60 L341.30,445.60 L341.30,452.60 L350.20,452.60 L350.20,460.60 L352.90,460.60 L352.90,468.10 L355.20,468.10 L355.20,475.60 L357.30,475.60 L357.30,483.10 L373.00,483.10 L373.00,491.70 L378.50,491.70 L378.50,509.80 L383.10,509.80 L383.10,518.50 L426.10,518.50 L426.10,527.50" fill="none" stroke="#8c8c8c" stroke-width="1.4" stroke-linejoin="miter"/>
<line x1="365.60" y1="483.10" x2="365.60" y2="480.10" stroke="#8c8c8c" stroke-width="1.3"/>
<path d="M320.20,416.10 L323.20,416.10 L323.20,423.30 L331.60,423.30 L331.60,430.50 L333.60,430.50 L333.60,438.30 L355.00,438.30 L355.00,445.60 L365.00,445.60 L365.00,453.70 L366.20,453.70 L366.20,461.70 L380.00,461.70 L380.00,470.40 L381.80,470.40 L381.80,478.30 L449.00,478.30 L449.00,494.60 L468.30,494.60" fill="none" stroke="#000" stroke-width="1.5" stroke-linejoin="miter"/>
<line x1="364.80" y1="445.60" x2="364.80" y2="442.60" stroke="#000" stroke-width="1.2"/>
<line x1="393.20" y1="478.30" x2="393.20" y2="475.30" stroke="#000" stroke-width="1.2"/>
<line x1="412.70" y1="478.30" x2="412.70" y2="475.30" stroke="#000" stroke-width="1.2"/>
<line x1="424.60" y1="478.30" x2="424.60" y2="475.30" stroke="#000" stroke-width="1.2"/>
<line x1="463.50" y1="494.60" x2="463.50" y2="491.60" stroke="#000" stroke-width="1.2"/>
<line x1="468.30" y1="494.60" x2="468.30" y2="491.60" stroke="#000" stroke-width="1.2"/>
<text x="393.45" y="470.30" font-size="10.0" font-weight="bold" text-anchor="start" stroke="#000" stroke-width="0.3" >High</text>
<text x="419.00" y="470.30" font-size="10.0" font-weight="bold" text-anchor="start" stroke="#000" stroke-width="0.3" font-style="italic">n</text>
<text x="426.60" y="470.30" font-size="10.0" font-weight="bold" text-anchor="start" stroke="#000" stroke-width="0.3" >=</text>
<text x="433.47" y="470.30" font-size="10.0" font-weight="bold" text-anchor="start" stroke="#000" stroke-width="0.3" >15</text>
<text x="385.75" y="515.60" font-size="10.0" font-weight="bold" text-anchor="start" stroke="#000" stroke-width="0.3" >Low</text>
<text x="409.80" y="515.60" font-size="10.0" font-weight="bold" text-anchor="start" stroke="#000" stroke-width="0.3" font-style="italic">n</text>
<text x="418.00" y="515.60" font-size="10.0" font-weight="bold" text-anchor="start" stroke="#000" stroke-width="0.3" >=</text>
<text x="425.47" y="515.60" font-size="10.0" font-weight="bold" text-anchor="start" stroke="#000" stroke-width="0.3" >15</text>
</g>
<g shape-rendering="crispEdges">
<rect x="1" y="1" width="518" height="1" fill="#c4c4c4"/>
<rect x="1" y="1" width="1" height="567" fill="#c0c0c0"/>
<rect x="518" y="1" width="1" height="567" fill="#a8a8a8"/>
<rect x="1" y="568" width="518" height="1" fill="#8c8c8c"/>
<rect x="0" y="0" width="520" height="1" fill="#4a4a4a"/>
<rect x="0" y="0" width="1" height="570" fill="#4a4a4a"/>
<rect x="519" y="0" width="1" height="570" fill="#505050"/>
<rect x="0" y="569" width="520" height="1" fill="#5e5e5e"/>
</g>
</svg>
</body></html>
